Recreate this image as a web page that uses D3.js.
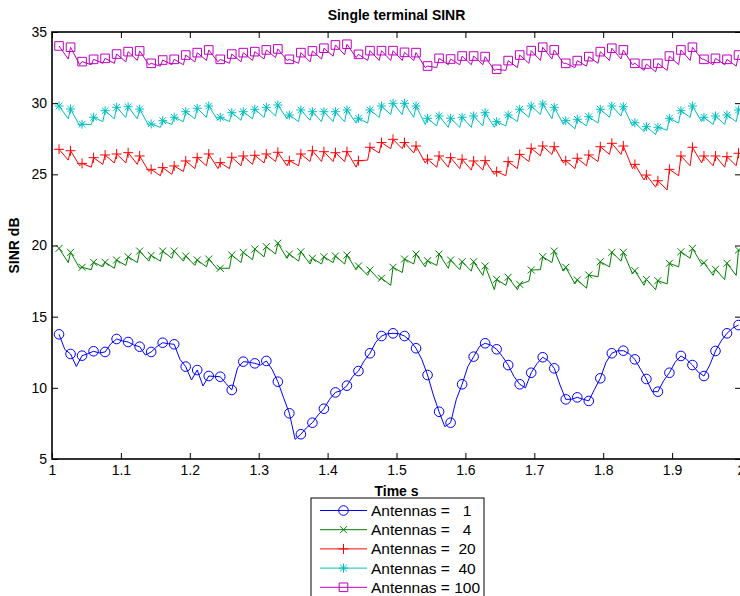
<!DOCTYPE html>
<html>
<head>
<meta charset="utf-8">
<script src="https://cdn.jsdelivr.net/npm/d3@7"></script>
<style>
  body { margin: 0; background: #fff; }
  text { font-family: "Liberation Sans", Arial, Helvetica, sans-serif; }
</style>
</head>
<body>
<svg id="chart" width="740" height="596"></svg>
<script>
// ---- data ----
var antennas = [1, 4, 20, 40, 100];
var seriesColors = ["#0000ff", "#008000", "#ff0000", "#00bfbf", "#bf00bf"];
var markerTypes = ["circle", "x", "plus", "star", "square"];

// marker samples: t = tStart + k * tStep
var tStart = 1.0102, tStep = 0.016715;
var xTicks = [1, 1.1, 1.2, 1.3, 1.4, 1.5, 1.6, 1.7, 1.8, 1.9, 2];
var yTicks = [5, 10, 15, 20, 25, 30, 35];

var sinr1 = [13.76,12.38,12.26,12.57,12.52,13.43,13.22,12.89,12.52,13.17,13.06,11.49,11.25,10.83,10.78,9.85,11.84,11.72,11.89,10.43,
             8.21,6.74,7.55,8.53,9.68,10.15,11.18,12.43,13.64,13.83,13.64,12.78,10.90,8.32,7.55,10.25,12.19,13.13,12.71,11.60,
             10.25,11.06,12.15,11.37,9.19,9.33,9.08,10.67,12.43,12.61,12.00,10.62,9.73,11.06,12.24,11.60,10.83,12.59,13.83,14.41];
var dip1 = [12.7,11.5,12.4,12.45,13.1,13.3,13.0,12.3,12.9,13.1,12.0,10.55,10.13,10.8,10.3,11.4,11.8,11.6,11.3,9.3,
            6.38,7.2,8.1,9.2,9.8,10.8,11.9,13.2,13.8,13.8,13.3,12.0,9.5,7.27,9.2,11.5,12.9,13.0,12.2,10.8,
            10.0,11.7,11.9,10.2,9.2,9.2,9.9,11.8,12.6,12.4,11.3,9.73,10.5,11.8,12.0,11.1,11.6,13.3,14.2];

var sinr4 = [19.80,19.52,18.47,18.82,18.82,18.98,19.21,19.61,19.31,19.61,19.61,19.26,18.98,19.05,18.40,19.33,19.52,19.75,19.92,20.16,
             19.40,19.56,19.10,19.21,19.26,19.33,18.56,18.28,17.70,18.47,19.05,19.40,18.93,19.40,18.98,18.86,18.86,18.56,17.62,17.77,
             17.27,18.28,19.21,19.61,18.47,17.58,17.93,18.86,19.52,19.52,18.23,17.62,17.53,18.75,19.56,19.80,18.79,18.33,18.75,19.68];
var dip4 = [18.8,18.4,18.3,18.5,18.4,18.6,18.8,18.9,18.9,19.1,18.9,18.6,18.5,18.3,18.4,18.8,19.0,19.2,19.4,19.1,
            18.9,18.7,18.7,18.8,18.7,18.3,17.9,17.6,17.2,18.1,18.7,18.5,18.6,18.4,18.3,18.2,17.9,16.9,17.2,16.9,
            17.5,18.3,18.8,18.2,17.3,17.0,17.8,18.5,18.9,18.0,17.2,16.9,17.3,18.5,19.1,18.7,17.9,17.6,17.9];

var sinr20 = [26.76,26.66,25.77,26.17,26.36,26.43,26.52,26.29,25.35,25.47,25.59,25.94,26.17,26.43,25.82,26.20,26.29,26.34,26.43,26.55,
              25.96,26.43,26.66,26.59,26.52,26.59,25.96,26.90,27.23,27.46,27.23,26.99,26.06,26.29,26.17,26.06,25.94,25.96,25.19,25.89,
              26.40,26.83,26.99,26.94,25.96,26.13,26.36,26.94,27.18,26.99,25.70,24.95,24.55,25.35,26.29,26.90,26.29,26.29,26.24,26.48];
var dip20 = [26.0,25.6,25.5,25.7,25.8,25.8,25.7,25.2,24.9,25.0,25.2,25.4,25.6,25.4,25.4,25.6,25.7,25.8,25.9,25.6,
             25.6,25.9,25.9,25.9,25.9,25.5,26.0,26.5,26.8,26.8,26.5,25.8,25.5,25.5,25.4,25.3,25.3,25.0,24.9,25.4,
             25.9,26.3,26.4,25.8,25.4,25.6,25.9,26.4,26.4,25.4,24.6,24.1,23.9,24.9,25.6,25.8,25.6,25.5,25.6];

var sinr40 = [29.80,29.59,28.52,29.01,29.47,29.71,29.75,29.59,28.54,28.77,29.01,29.40,29.64,29.80,29.01,29.33,29.40,29.57,29.71,29.87,
              29.17,29.52,29.40,29.40,29.40,29.52,28.94,29.52,29.80,29.99,29.99,29.80,28.94,29.10,28.94,29.01,29.10,29.33,28.70,29.17,
              29.57,29.80,29.94,29.71,28.77,28.87,29.05,29.57,29.80,29.75,28.63,28.35,28.31,28.94,29.47,29.80,29.01,29.10,29.17,29.52];
var dip40 = [28.9,28.4,28.5,28.7,28.9,29.0,28.9,28.4,28.3,28.5,28.7,28.9,29.0,28.8,28.7,28.8,28.9,29.0,29.1,28.9,
             28.7,28.8,28.7,28.7,28.7,28.6,28.6,29.0,29.2,29.2,29.0,28.5,28.4,28.3,28.3,28.3,28.4,28.3,28.4,28.7,
             29.0,29.2,28.9,28.5,28.2,28.4,28.6,29.0,29.1,28.4,28.0,27.8,28.1,28.6,29.0,28.7,28.5,28.5,28.7];

var sinr100 = [34.02,33.93,32.92,33.08,33.15,33.45,33.62,33.67,32.80,33.03,33.08,33.38,33.55,33.74,33.08,33.45,33.55,33.62,33.74,33.81,
               33.08,33.55,33.67,33.86,34.09,34.14,33.43,33.69,33.69,33.69,33.57,33.55,32.61,33.15,33.10,33.31,33.31,33.27,32.38,32.99,
               33.38,33.69,33.93,33.74,32.80,32.99,33.27,33.62,33.86,33.74,32.80,32.75,32.80,33.31,33.74,33.93,33.08,33.15,33.08,33.38];
var dip100 = [33.1,32.7,32.7,32.8,32.8,32.9,33.0,32.7,32.6,32.7,32.7,32.9,33.0,32.9,32.8,32.9,33.0,33.1,33.2,33.0,
              32.8,32.9,33.1,33.3,33.4,33.2,33.0,33.0,33.0,33.0,33.0,32.5,32.5,32.7,32.7,32.7,32.7,32.3,32.3,32.5,
              32.8,33.0,33.1,32.8,32.5,32.6,32.8,33.0,33.1,32.7,32.3,32.2,32.3,32.7,33.0,33.1,32.7,32.7,32.6];

var markerSets = [sinr1, sinr4, sinr20, sinr40, sinr100];
var dipSets = [dip1, dip4, dip20, dip40, dip100];

// ---- layout ----
var margin = {left: 52, top: 32, right: 741, bottom: 459};
var svg = d3.select("#chart");

var x = d3.scaleLinear().domain([1, 2]).range([margin.left, margin.right]);
var y = d3.scaleLinear().domain([5, 35]).range([margin.bottom, margin.top]);

function markerPath(type) {
  var p = d3.path();
  if (type === "circle") {
    p.moveTo(4.8, 0); p.arc(0, 0, 4.8, 0, 2 * Math.PI);
  } else if (type === "square") {
    p.rect(-4.3, -4.3, 8.6, 8.6);
  } else if (type === "x") {
    p.moveTo(-3.5, -3.5); p.lineTo(3.5, 3.5);
    p.moveTo(-3.5, 3.5); p.lineTo(3.5, -3.5);
  } else if (type === "plus") {
    p.moveTo(-5, 0); p.lineTo(5, 0);
    p.moveTo(0, -5); p.lineTo(0, 5);
  } else if (type === "star") {
    p.moveTo(-4.5, 0); p.lineTo(4.5, 0);
    p.moveTo(0, -4.5); p.lineTo(0, 4.5);
    p.moveTo(-3.3, -3.3); p.lineTo(3.3, 3.3);
    p.moveTo(-3.3, 3.3); p.lineTo(3.3, -3.3);
  }
  return p.toString();
}

// ---- series ----
var line = d3.line().x(d => x(d.t)).y(d => y(d.v));
var plot = svg.append("g").attr("class", "series");

markerSets.forEach(function(vals, i) {
  var dips = dipSets[i];
  var frac = i === 0 ? 0.5 : 0.8;
  var pts = [];
  var marks = vals.map((v, k) => ({t: tStart + k * tStep, v: v}));
  marks.forEach(function(m, k) {
    pts.push(m);
    if (k < dips.length) pts.push({t: m.t + frac * tStep, v: dips[k]});
  });

  plot.append("path")
    .datum(pts)
    .attr("fill", "none")
    .attr("stroke", seriesColors[i])
    .attr("stroke-width", 1)
    .attr("d", line);

  plot.append("g").selectAll("path")
    .data(marks)
    .join("path")
    .attr("transform", d => "translate(" + x(d.t) + "," + y(d.v) + ")")
    .attr("d", markerPath(markerTypes[i]))
    .attr("fill", "none")
    .attr("stroke", seriesColors[i])
    .attr("stroke-width", 1);
});

// ---- axes (matlab style box, ticks inward) ----
var axBottom = d3.axisBottom(x).tickValues(xTicks).tickSizeInner(-6).tickSizeOuter(0)
  .tickFormat(d => d3.format("")(+d.toFixed(1)));
var axTop = d3.axisTop(x).tickValues(xTicks).tickSizeInner(-6).tickSizeOuter(0).tickFormat("");
var axLeft = d3.axisLeft(y).tickValues(yTicks).tickSizeInner(-6).tickSizeOuter(0);
var axRight = d3.axisRight(y).tickValues(yTicks).tickSizeInner(-6).tickSizeOuter(0).tickFormat("");

function styleAxis(g) {
  g.select(".domain").remove();
  g.selectAll(".tick line").attr("stroke", "#000").attr("stroke-width", 1);
  g.selectAll(".tick text").attr("fill", "#000").style("font-size", "14px");
}

svg.append("g").attr("transform", "translate(0," + margin.bottom + ")").call(axBottom).call(styleAxis)
  .selectAll(".tick text").attr("dy", "0.95em").attr("y", 3);
svg.append("g").attr("transform", "translate(0," + margin.top + ")").call(axTop).call(styleAxis);
svg.append("g").attr("transform", "translate(" + margin.left + ",0)").call(axLeft).call(styleAxis)
  .selectAll(".tick text").attr("x", -5);
svg.append("g").attr("transform", "translate(" + margin.right + ",0)").call(axRight).call(styleAxis);

svg.append("rect")
  .attr("x", margin.left).attr("y", margin.top)
  .attr("width", margin.right - margin.left).attr("height", margin.bottom - margin.top)
  .attr("fill", "none").attr("stroke", "#000").attr("stroke-width", 1.6);

// ---- labels ----
var midX = (margin.left + margin.right) / 2;
svg.append("text").attr("x", midX).attr("y", 20).attr("text-anchor", "middle")
  .style("font-size", "14px").style("font-weight", "bold").text("Single terminal SINR");
svg.append("text").attr("x", midX).attr("y", 496).attr("text-anchor", "middle")
  .style("font-size", "14px").style("font-weight", "bold").text("Time s");
svg.append("text").attr("transform", "translate(19," + ((margin.top + margin.bottom) / 2) + ") rotate(-90)")
  .attr("text-anchor", "middle")
  .style("font-size", "14px").style("font-weight", "bold").text("SINR dB");

// ---- legend ----
var legend = svg.append("g").attr("transform", "translate(311,498)");
legend.append("rect").attr("x", 0).attr("y", 0).attr("width", 173).attr("height", 110)
  .attr("fill", "#fff").attr("stroke", "#000").attr("stroke-width", 1);

antennas.forEach(function(a, i) {
  var ly = 12.5 + i * 19.2;
  var row = legend.append("g").attr("transform", "translate(0," + ly + ")");
  row.append("line").attr("x1", 9).attr("x2", 56).attr("y1", 0).attr("y2", 0)
    .attr("stroke", seriesColors[i]).attr("stroke-width", 1);
  row.append("path").attr("transform", "translate(32.5,0)").attr("d", markerPath(markerTypes[i]))
    .attr("fill", "none").attr("stroke", seriesColors[i]).attr("stroke-width", 1);
  // num2str-style padding: number padded to width 3 with spaces
  row.append("text").attr("x", 60).attr("y", 5.5)
    .style("font-size", "15.5px").style("white-space", "pre")
    .text("Antennas = " + String(a).padStart(3, " "));
});
</script>
</body>
</html>
